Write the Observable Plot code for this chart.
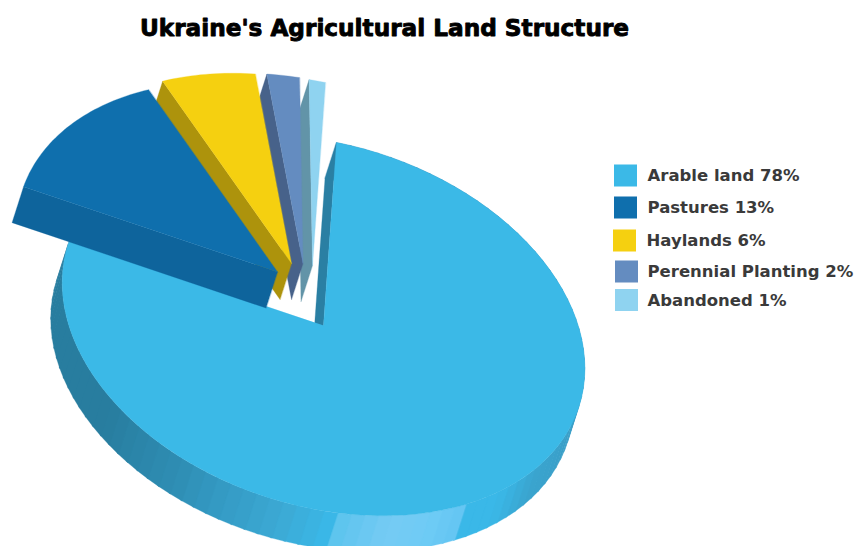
<!DOCTYPE html>
<html>
<head>
<meta charset="utf-8">
<script src="https://cdn.jsdelivr.net/npm/d3@7"></script>
<script src="https://cdn.jsdelivr.net/npm/@observablehq/plot@0.6"></script>
<style>
  html, body { margin: 0; padding: 0; background: #fff; overflow: hidden; }
  svg { display: block; }
</style>
</head>
<body>
<div id="chart"></div>
<script>
const chartTitle = "Ukraine's Agricultural Land Structure";
const categories = ["Arable land", "Pastures", "Haylands", "Perennial Planting", "Abandoned"];
const shares = [78, 13, 6, 2, 1];

const topColors = ["#3bb9e7", "#0f6fad", "#f5d010", "#648cc0", "#8fd3f0"];
const sideColors = ["#2a7fa3", "#0e649c", "#ad930c", "#47628a", "#6294a8"];

// Tilted projection of the pie plane: unit-circle axes mapped to page units.
const center = [323, 325];
const axisA = [261, 52];
const axisB = [-13, 183];
const depth = [-11.5, 36];
// How far each slice is pulled away from the centre.
const pull = [[0, 0], [-46, -53.5], [-32, -62], [-20.5, -62], [-11, -60]];

// Shading around the rim of the big slice, by pie angle in degrees.
const rimBefore = d3.scaleLinear()
  .domain([85, 106, 123, 135, 143.6])
  .range(["#3a9bc4", "#3a9fc8", "#3aa5cf", "#3ab8e8", "#3ab8e8"]);
const rimHighlight = d3.scaleLinear()
  .domain([143.6, 152, 162, 173.4])
  .range(["#62c4f2", "#6ecbf5", "#75cbf4", "#5cc4ee"]);
const rimAfter = d3.scaleLinear()
  .domain([173.4, 175, 185, 201, 210, 231, 285])
  .range(["#3ab8e8", "#3ab8e8", "#3caad5", "#3398c1", "#2e8db3", "#287d9f", "#287d9f"]);
const rimColor = (deg) => deg < 143.6 ? rimBefore(deg) : deg < 173.4 ? rimHighlight(deg) : rimAfter(deg);

const total = d3.sum(shares);
const edges = d3.cumsum([0, ...shares]).map((v) => (v / total) * 2 * Math.PI);

// Point on the disc: t is the pie angle, r the radial share, z the extrusion.
function project(t, r, z, offset) {
  const s = Math.sin(t) * r, c = Math.cos(t) * r;
  return {
    x: center[0] + offset[0] + axisA[0] * s - axisB[0] * c + depth[0] * z,
    y: center[1] + offset[1] + axisA[1] * s - axisB[1] * c + depth[1] * z
  };
}

const shapes = [];
function addShape(color, points) {
  const id = shapes.length ? shapes[shapes.length - 1].id + 1 : 0;
  for (const p of points) shapes.push({...p, id, color});
}

function arcPoints(a, b, offset) {
  const n = Math.max(2, Math.ceil((b - a) / 0.02));
  return d3.range(n + 1).map((i) => project(a + ((b - a) * i) / n, 1, 0, offset));
}

function addStartWall(i) {
  const t = edges[i], o = pull[i];
  addShape(sideColors[i], [
    project(t, 0, 0, o), project(t, 1, 0, o), project(t, 1, 1, o), project(t, 0, 1, o)
  ]);
}

function addTop(i) {
  const o = pull[i];
  addShape(topColors[i], [project(0, 0, 0, o), ...arcPoints(edges[i], edges[i + 1], o)]);
}

// Rim of the big slice, one narrow band at a time.
const bandDeg = 3;
const lastDeg = (edges[1] * 180) / Math.PI;
for (let deg = 0; deg < lastDeg; deg += bandDeg) {
  const a = (deg * Math.PI) / 180;
  const b = (Math.min(deg + bandDeg + 0.4, lastDeg) * Math.PI) / 180;
  addShape(rimColor(deg + bandDeg / 2), [
    project(a, 1, 0, pull[0]), project(b, 1, 0, pull[0]),
    project(b, 1, 1, pull[0]), project(a, 1, 1, pull[0])
  ]);
}
addStartWall(0);
addTop(0);
// Later slices sit underneath earlier ones, working back towards the pastures.
for (const i of [4, 3, 2, 1]) {
  addStartWall(i);
  addTop(i);
}

const legendRows = categories.map((name, i) => ({
  label: `${name} ${shares[i]}%`,
  color: topColors[i],
  left: [614, 614, 613, 615, 615][i],
  middle: [175.5, 207.5, 240.5, 271.5, 300][i],
  textLeft: [647, 647, 646, 647, 647][i]
}));

const chart = Plot.plot({
  width: 855,
  height: 546,
  margin: 0,
  x: {domain: [0, 855], range: [0, 855], axis: null},
  y: {domain: [0, 546], range: [0, 546], axis: null},
  color: {type: "identity"},
  marks: [
    Plot.line(shapes, {
      x: "x", y: "y", z: "id",
      fill: "color", stroke: "color", strokeWidth: 0.3, curve: "linear-closed"
    }),
    Plot.rect(legendRows, {
      x1: "left", x2: (d) => d.left + 23,
      y1: (d) => d.middle - 11, y2: (d) => d.middle + 11,
      fill: "color"
    }),
    Plot.text(legendRows, {
      x: "textLeft", y: "middle", text: "label", textAnchor: "start",
      fontFamily: "DejaVu Sans", fontWeight: "bold", fontSize: 16.5, fill: "#3a3a3a"
    }),
    Plot.text([chartTitle], {
      x: 384, y: 28, text: (d) => d, textAnchor: "middle",
      fontFamily: "DejaVu Sans", fontWeight: "bold", fontSize: 23.2,
      fill: "#000", stroke: "#000", strokeWidth: 0.9
    })
  ]
});
document.getElementById("chart").append(chart);
</script>
</body>
</html>
